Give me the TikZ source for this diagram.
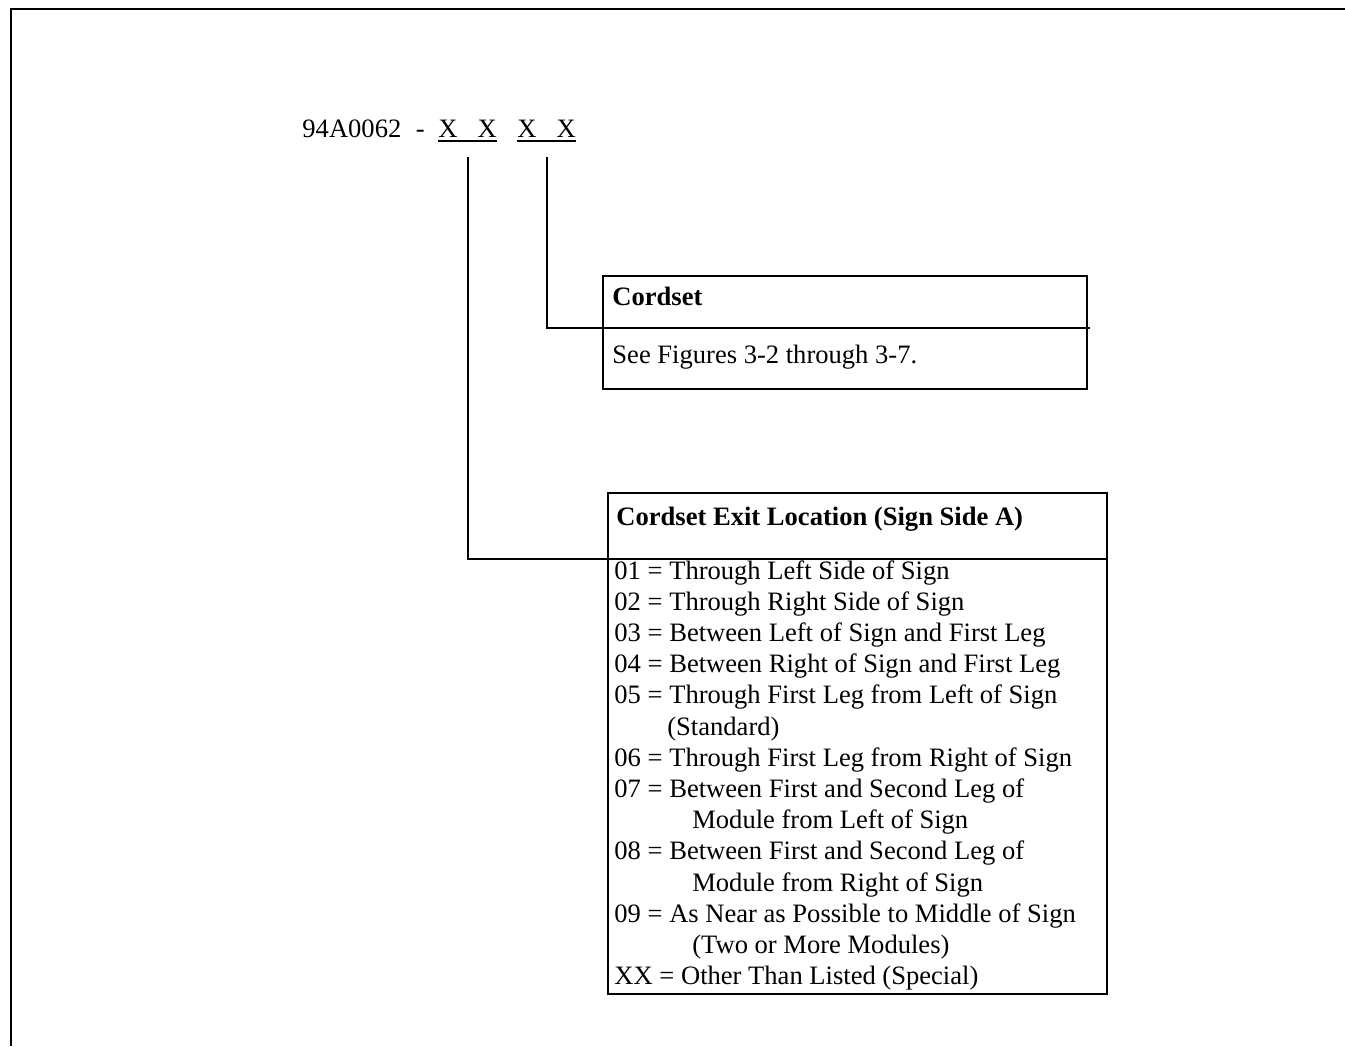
\documentclass[tikz,border=0pt]{standalone}
\usepackage{fontspec}
\setmainfont{Liberation Serif}
\usetikzlibrary{positioning}

\newcommand{\pxu}{0.4442pt}

\begin{document}
\begin{tikzpicture}[
            x=0.4442pt, y=-0.4442pt,
            box/.style={draw, rectangle, line width=0.9pt, inner sep=0pt, outer sep=0pt},
            txt/.style={anchor=base west, inner sep=0pt, font=\fontsize{11.8}{13.8}\selectfont},
            hdr/.style={txt, font=\fontsize{11.8}{13.8}\selectfont\bfseries},
            wire/.style={line width=0.9pt},
            uline/.style={line width=0.6pt}
        ]
        \useasboundingbox (0,0) rectangle (1345,1046);
        % --- page frame ---
        \draw[wire] (11,1046) |- (1345,9);

        % --- part number ---
        \node[txt] (pn) at (302,137) {94A0062\hspace{6.5pt}-};
        \node[txt] (xa) at (438,137) {X\hspace{8.9pt}X};
        \node[txt] (xb) at (517,137) {X\hspace{8.9pt}X};
        \draw[uline] ([yshift=-1.8pt]xa.base west) -- ([yshift=-1.8pt]xa.base east);
        \draw[uline] ([yshift=-1.8pt]xb.base west) -- ([yshift=-1.8pt]xb.base east);

        % --- Cordset box ---
        \node[box, anchor=north west, minimum width=484*\pxu, minimum height=52*\pxu] (cshead) at (603,276) {};
        \node[box, below=0pt of cshead, minimum width=484*\pxu, minimum height=61*\pxu] (csbody) {};
        \node[hdr] (cstitle) at (612,305) {Cordset};
        \node[txt] (csnote) at (612,363) {See Figures 3-2 through 3-7.};

        % --- Exit location box ---
        \node[box, anchor=north west, minimum width=499*\pxu, minimum height=66*\pxu] (exithead) at (608,493) {};
        \node[box, below=0pt of exithead, minimum width=499*\pxu, minimum height=435*\pxu] (exitbody) {};
        \node[hdr] (exittitle) at (616,525) {Cordset Exit Location (Sign Side A)};
        \foreach \code [count=\i from 0] in {
            01 = Through Left Side of Sign,
            02 = Through Right Side of Sign,
            03 = Between Left of Sign and First Leg,
            04 = Between Right of Sign and First Leg,
            05 = Through First Leg from Left of Sign,
            \hspace*{23.5pt}(Standard),
            06 = Through First Leg from Right of Sign,
            07 = Between First and Second Leg of,
            \hspace*{34.6pt}Module from Left of Sign,
            08 = Between First and Second Leg of,
            \hspace*{34.6pt}Module from Right of Sign,
            09 = As Near as Possible to Middle of Sign,
            \hspace*{34.6pt}(Two or More Modules),
            XX = Other Than Listed (Special)}
            \node[txt] (opt\i) at (614,{579+31.2*\i}) {\code};

        % --- leaders ---
        \draw[wire] (xa.south) ++(0,20) |- (exithead.south west);
        \draw[wire] (xb.south) ++(0,20) |- ([xshift=1.5pt]cshead.south east);
        \end{tikzpicture}
\end{document}
